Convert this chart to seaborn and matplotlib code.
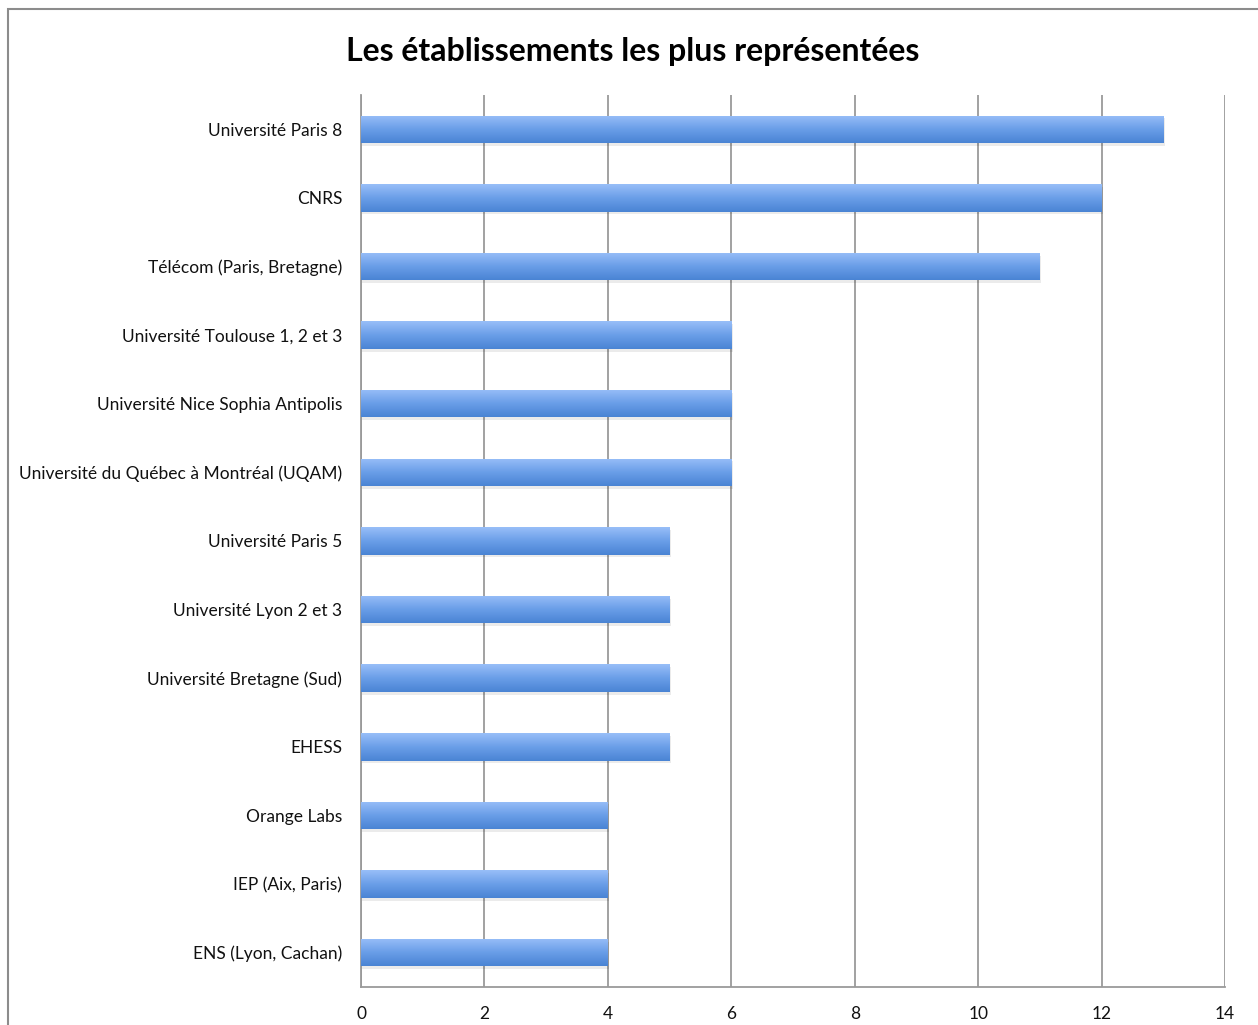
import numpy as np
import pandas as pd
import matplotlib
matplotlib.use("Agg")
import matplotlib.pyplot as plt
import seaborn as sns
from matplotlib.patches import Rectangle
from matplotlib.colors import LinearSegmentedColormap

# data
etablissements = [
    "Université Paris 8",
    "CNRS",
    "Télécom (Paris, Bretagne)",
    "Université Toulouse 1, 2 et 3",
    "Université Nice Sophia Antipolis",
    "Université du Québec à Montréal (UQAM)",
    "Université Paris 5",
    "Université Lyon 2 et 3",
    "Université Bretagne (Sud)",
    "EHESS",
    "Orange Labs",
    "IEP (Aix, Paris)",
    "ENS (Lyon, Cachan)",
]
nombres = [13, 12, 11, 6, 6, 6, 5, 5, 5, 5, 4, 4, 4]
x_ticks = [0, 2, 4, 6, 8, 10, 12, 14]

df = pd.DataFrame({"etablissement": etablissements, "nombre": nombres})

sns.set_theme(style="white")
plt.rcParams["font.family"] = ["Lato", "DejaVu Sans"]

fig = plt.figure(figsize=(12.58, 10.25), dpi=100)
ax = fig.add_axes([0.2870, 0.0371, 0.6868, 0.8702])

sns.barplot(data=df, x="nombre", y="etablissement", orient="h",
            color="#6a9ee8", width=0.4, ax=ax, zorder=3)

# gradient fill + soft shadow for every bar
grad = LinearSegmentedColormap.from_list("bleu", ["#4a84d4", "#6a9ee8", "#98bef8"])
for p in ax.patches:
    x0, y0 = p.get_x(), p.get_y()
    w, h = p.get_width(), p.get_height()
    shadow = Rectangle((x0 + 0.02, y0 + 0.04), w, h, facecolor="#000000",
                       alpha=0.08, edgecolor="none", zorder=2)
    ax.add_patch(shadow)
    p.set_edgecolor("none")
    im = ax.imshow(np.linspace(0, 1, 64).reshape(-1, 1), cmap=grad, aspect="auto",
                   extent=(x0, x0 + w, y0 + h, y0), origin="lower", zorder=4)
    im.set_clip_path(p)

ax.set_xlim(0, 14)
ax.set_ylim(len(etablissements) - 0.5, -0.5)
ax.set_xticks(x_ticks)
ax.set_xticklabels([str(t) for t in x_ticks])
ax.xaxis.grid(True, color="#9a9a9a", linewidth=1.3, zorder=0)
ax.yaxis.grid(False)
ax.set_axisbelow(True)
ax.set_xlabel("")
ax.set_ylabel("")

for side in ["top", "right"]:
    ax.spines[side].set_visible(False)
for side in ["left", "bottom"]:
    ax.spines[side].set_color("#9a9a9a")
    ax.spines[side].set_linewidth(1.3)

ax.tick_params(axis="y", length=0, pad=13.5, labelsize=12.5, labelcolor="#111111")
ax.tick_params(axis="x", length=0, pad=14, labelsize=12.5, labelcolor="#111111")

fig.text(0.503, 0.950, "Les établissements les plus représentées",
         ha="center", va="center", fontsize=23, fontweight="bold", color="#000000")

# outer frame of the chart area
fig.add_artist(Rectangle((8 / 1258, -0.1), 1.2, (1025 - 9) / 1025 + 0.1,
                         transform=fig.transFigure, fill=False,
                         edgecolor="#8c8c8c", linewidth=1.5))

fig.savefig("out.png", dpi=100)
